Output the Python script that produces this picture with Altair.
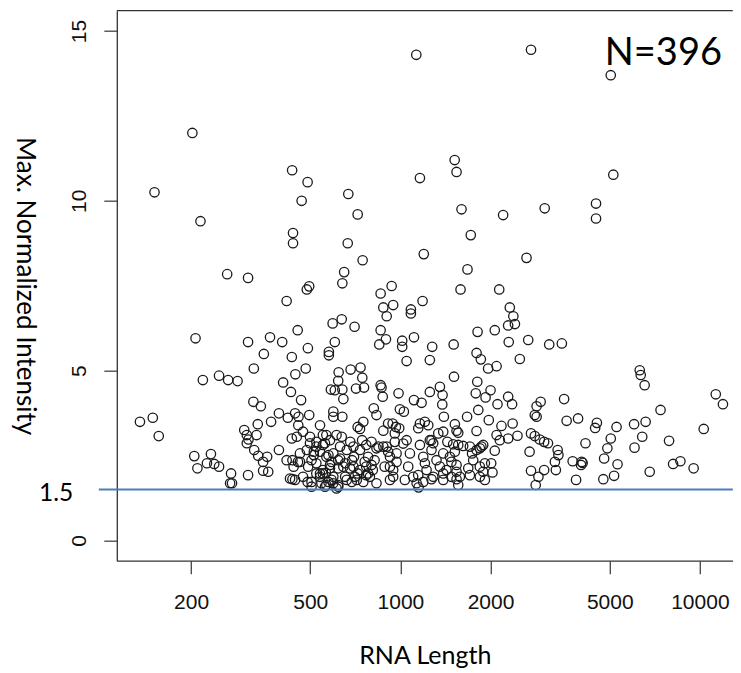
import altair as alt
import pandas as pd

# ---- data (RNA length, max. normalized intensity) ----
a_len = [1130, 202, 151, 215, 435, 490, 468, 670, 720, 438, 438, 667, 748, 1162, 1197, 649, 264, 310,
         2730, 5040, 1518, 1540, 5140, 1600, 2203, 3033, 4500, 4500, 1718, 2637, 1675]
a_int = [14.3, 12.0, 10.25, 9.4, 10.9, 10.55, 10.0, 10.2, 9.6, 9.05, 8.75, 8.75, 8.25, 10.67, 8.43, 7.9, 7.84, 7.73,
         14.45, 13.7, 11.2, 10.85, 10.77, 9.75, 9.58, 9.78, 9.92, 9.48, 8.99, 8.32, 7.98]

a2_len = [487, 496, 640, 859, 935, 417, 877, 946, 900, 1084, 1084, 1186, 594, 637, 703, 454, 207, 310, 367, 403,
          350, 434, 491, 604, 577, 577, 859, 850, 895, 1014, 1014, 1110, 1049, 1277, 1254, 1506, 1588, 2138, 2319, 2383,
          2412, 2290, 1810, 2066, 1796, 1856, 1963, 2095, 2505, 2672, 3140, 3460, 2300, 6298, 6345, 6540, 324, 483, 682, 736]
a2_int = [7.39, 7.48, 7.57, 7.27, 7.49, 7.05, 6.86, 6.93, 6.6, 6.8, 6.68, 7.05, 6.39, 6.51, 6.29, 6.19, 5.95, 5.84, 5.98, 5.84,
          5.49, 5.4, 5.66, 5.84, 5.55, 5.45, 6.19, 5.77, 5.92, 5.88, 5.7, 5.98, 5.28, 5.7, 5.31, 5.77, 7.39, 7.39, 6.86, 6.6,
          6.37, 6.33, 6.14, 6.19, 5.52, 5.33, 5.06, 5.13, 5.34, 5.9, 5.77, 5.8, 5.84, 5.01, 4.87, 4.57, 5.06, 5.06, 5.03, 5.09]

b_len = [219, 248, 266, 286, 406, 431, 446, 466, 622, 620, 746, 586, 640, 604, 645, 711, 756, 859, 865, 873,
         986, 1110, 1177, 323, 342, 393, 445, 457, 496, 597, 597, 640, 815, 832, 421, 996, 1027, 1510, 1355, 1383,
         1380, 1254, 1397, 1670, 1806, 1785, 1925, 2000, 1820, 2110, 2290, 2360, 3521, 2850, 2940, 2810, 2850,
         11300, 11940, 7390, 3920]
b_int = [4.72, 4.85, 4.72, 4.69, 4.65, 4.37, 4.89, 4.13, 4.95, 4.7, 4.79, 4.44, 4.44, 4.42, 4.16, 4.47, 4.5, 4.57, 4.5, 4.23,
         4.33, 4.13, 4.05, 4.08, 3.95, 3.74, 3.74, 3.64, 3.69, 3.79, 3.64, 3.64, 3.89, 3.69, 3.61, 3.86, 3.79, 4.82, 4.52, 4.28,
         4.0, 4.37, 3.64, 3.64, 4.67, 4.33, 4.21, 4.42, 3.84, 4.01, 4.23, 4.01, 4.16, 3.95, 4.08, 3.69, 3.64,
         4.3, 4.01, 3.84, 3.59]

c_len = [135, 149, 156, 370, 334, 301, 307, 311, 307, 331, 325, 335, 359, 348, 362, 348, 310, 272, 270, 274,
         205, 210, 233, 226, 239, 248, 393]
c_int = [3.49, 3.61, 3.07, 3.49, 3.42, 3.25, 3.10, 2.97, 2.86, 3.10, 2.66, 2.49, 2.46, 2.31, 2.02, 2.05, 1.92, 1.97, 1.68, 1.68,
         2.48, 2.12, 2.54, 2.27, 2.25, 2.17, 2.66]

d1_len = [456, 473, 539, 551, 720, 733, 752, 434, 451,
          499, 524, 551, 582, 612, 637,
          662, 697, 733, 769, 801, 845,
          462, 487, 514, 539, 566, 597, 629,
          417, 440, 462, 492, 524, 551, 582, 620, 654, 697, 733, 769, 809,
          428, 445, 473, 505, 539, 545, 575, 597, 620, 662, 705, 752, 791, 832,
          505, 566, 612, 560, 620,
          780, 820, 832, 801, 769, 745, 700, 760, 690, 720, 780, 680, 645, 679, 654, 688, 715, 589, 597, 539,
          551, 524, 564, 499, 514, 505, 524, 566, 560, 455, 436, 575, 589, 582, 629, 620, 436, 490]
d1_int = [3.39, 3.20, 3.39, 3.10, 3.34, 3.28, 3.49, 3.0, 3.05,
          3.05, 2.90, 2.81, 2.95, 3.10, 3.05,
          2.66, 2.76, 2.66, 2.81, 2.90, 2.76,
          2.56, 2.66, 2.51, 2.61, 2.46, 2.56, 2.41,
          2.36, 2.17, 2.31, 2.17, 2.27, 2.07, 2.22, 2.12, 2.27, 2.17, 2.07, 2.17, 2.07,
          1.82, 1.78, 1.87, 1.72, 1.97, 1.68, 1.72, 1.87, 1.63, 1.78, 1.87, 1.72, 1.87, 1.68,
          1.58, 1.63, 1.53, 1.58, 1.58,
          2.46, 2.36, 2.71, 2.22, 1.92, 2.95, 2.46, 2.31, 2.36, 1.97, 1.97, 2.90, 2.17, 2.12, 1.87, 1.72, 1.78, 1.78, 1.68, 1.87,
          1.97, 1.97, 1.99, 2.86, 2.61, 2.36, 2.76, 3.10, 2.86, 2.31, 2.36, 2.51, 2.31, 2.12, 2.76, 2.36, 1.80, 1.72]

d2_len = [910, 942, 966, 991, 877, 958, 1162, 1207, 1239, 1147, 1338, 1390, 1520, 1540, 1560, 1796, 1973, 1270, 1287,
          900, 958, 923, 971, 886, 946, 923,
          1049, 1076, 1062, 1103, 1035,
          1162, 1192, 1254, 1270, 1223, 1287, 1133,
          1390, 1463, 1520, 1480, 1540, 1425, 1390, 1480, 1580, 1560,
          1706, 1796, 1890, 1750, 1842, 1915, 1706, 1842, 1915,
          1022, 1207, 1147, 1192, 1435, 1500, 1560, 1620, 1864, 1735, 1842, 1320, 1355, 1270, 1685, 1890, 1540, 1540,
          1390, 877, 910, 971, 923, 946, 1150]
d2_int = [3.44, 3.44, 3.34, 3.30, 3.23, 3.15, 3.44, 3.49, 3.39, 3.30, 3.15, 3.20, 3.42, 3.23, 3.17, 3.22, 3.54, 2.95, 2.86,
          2.76, 2.90, 2.46, 2.56, 2.17, 2.07, 1.78,
          2.95, 2.56, 2.17, 1.87, 1.78,
          2.81, 2.46, 2.95, 2.66, 2.07, 1.87, 1.68,
          2.56, 2.46, 2.61, 2.31, 2.22, 2.07, 1.78, 1.87, 1.87, 1.63,
          2.76, 2.66, 2.81, 2.36, 2.17, 2.27, 1.92, 1.87, 1.78,
          2.85, 2.27, 1.92, 1.72, 2.90, 2.83, 2.81, 2.78, 2.76, 2.56, 2.71, 2.36, 2.17, 1.80, 2.12, 2.02, 2.02, 1.80,
          1.97, 2.76, 2.61, 2.31, 2.17, 1.87, 1.56]

d3_len = [2175, 2370, 2095, 2148, 2290, 2460, 2730, 2810, 2920, 3020, 3110, 3350, 3370, 3280, 3305, 2700,
          2066, 2010, 2030, 2730, 3020, 2890, 2830, 3760, 4030, 4010, 4060, 3860, 4150, 4530, 4470, 3590]
d3_int = [3.37, 3.44, 3.10, 2.95, 3.0, 3.08, 3.15, 3.07, 2.97, 2.90, 2.86, 2.66, 2.51, 2.31, 2.07, 2.61,
          2.64, 2.27, 2.0, 2.05, 2.07, 1.87, 1.63, 2.33, 2.31, 2.22, 2.28, 1.78, 2.86, 3.46, 3.31, 3.52]

e_len = [4790, 4910, 5040, 5310, 5170, 4760, 5270, 6030, 6590, 6420, 6050, 7890, 6800, 8140, 8610, 9530, 10300]
e_int = [2.41, 2.71, 3.0, 2.24, 1.90, 1.80, 3.34, 3.42, 3.49, 3.05, 2.73, 2.93, 2.02, 2.25, 2.33, 2.12, 3.28]

x_ticks = [200, 500, 1000, 2000, 5000, 10000]
y_ticks = [0, 5, 10, 15]
threshold = 1.5
n_label = "N=396"
n_label_pos = [4815, 14.0]

rna_length = a_len + a2_len + b_len + c_len + d1_len + d2_len + d3_len + e_len
intensity = a_int + a2_int + b_int + c_int + d1_int + d2_int + d3_int + e_int
df = pd.DataFrame({"len": rna_length, "val": intensity})

W = 616
H = 550

x_scale = alt.Scale(type="log", domain=[113, 12880], nice=False)
y_scale = alt.Scale(domain=[-0.6, 15.6], nice=False, zero=False)

points = alt.Chart(df).mark_point(
    shape="circle", filled=False, size=88, strokeWidth=1.3, color="#1a1a1a", opacity=1
).encode(
    x=alt.X("len:Q", scale=x_scale, axis=alt.Axis(
        values=x_ticks, format="d", title="RNA Length", grid=False,
        domainColor="#333", domainWidth=1.3, tickColor="#444", tickWidth=1.3, tickSize=13,
        labelFont="Liberation Sans", labelFontSize=21, labelColor="#111", labelPadding=18,
        labelBaseline="top", labelAlign="center", labelOverlap=False, labelFlush=False, labelBound=False,
        titleFont="Lato", titleFontSize=25, titleFontWeight="normal", titleColor="#000",
        titleY=103, titleBaseline="alphabetic")),
    y=alt.Y("val:Q", scale=y_scale, axis=alt.Axis(
        values=y_ticks, title="Max. Normalized Intensity", grid=False,
        domainColor="#333", domainWidth=1.3, tickColor="#444", tickWidth=1.3, tickSize=13,
        labelFont="Liberation Sans", labelFontSize=21, labelColor="#111", labelPadding=18,
        labelAngle=270, labelAlign="center", labelBaseline="alphabetic", labelOverlap=False,
        labelFlush=False, labelBound=False,
        titleFont="Lato", titleFontSize=26, titleFontWeight="normal", titleColor="#000",
        titleAngle=90, titleX=-100, titleY=275, titleAlign="center", titleBaseline="alphabetic")),
)

thr_df = pd.DataFrame({"t": [threshold], "label": [f"{threshold}"]})

rule = alt.Chart(thr_df).mark_rule(color="#4a7ebb", strokeWidth=2).encode(
    y=alt.Y("t:Q", scale=y_scale), x=alt.value(-18), x2=alt.value(W)
)

thr_text = alt.Chart(thr_df).mark_text(
    align="right", baseline="alphabetic", dy=11.7, font="Lato", fontSize=24.5, color="#000"
).encode(y=alt.Y("t:Q", scale=y_scale), x=alt.value(-43.5), text="label:N")

n_df = pd.DataFrame({"x": [n_label_pos[0]], "y": [n_label_pos[1]], "label": [n_label]})
n_text = alt.Chart(n_df).mark_text(
    align="left", baseline="alphabetic", font="Lato", fontSize=38, color="#000"
).encode(x=alt.X("x:Q", scale=x_scale), y=alt.Y("y:Q", scale=y_scale), text="label:N")

top_border = alt.Chart(thr_df).mark_rule(color="#333", strokeWidth=1.3).encode(
    x=alt.value(0), x2=alt.value(W), y=alt.value(0)
)

chart = alt.layer(points, rule, thr_text, n_text, top_border).properties(
    width=W, height=H,
    autosize=alt.AutoSizeParams(type="none"),
    padding={"left": 108.8, "top": 2.7, "right": 0, "bottom": 112},
    background="white",
).configure_view(stroke=None)

chart.save("out.html", embed_options={"renderer": "svg", "actions": False})
